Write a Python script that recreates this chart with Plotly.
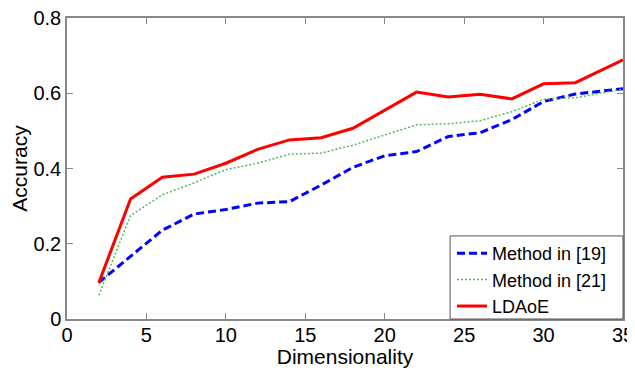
import plotly.graph_objects as go

dims = [2, 4, 6, 8, 10, 12, 14, 16, 18, 20, 22, 24, 26, 28, 30, 32, 35]
method19 = [0.097, 0.167, 0.236, 0.279, 0.291, 0.308, 0.312, 0.356, 0.403, 0.434,
            0.445, 0.485, 0.495, 0.530, 0.578, 0.598, 0.612]
method21 = [0.063, 0.275, 0.330, 0.362, 0.397, 0.414, 0.438, 0.441, 0.462, 0.489,
            0.516, 0.519, 0.527, 0.551, 0.584, 0.588, 0.611]
ldaoe = [0.096, 0.319, 0.377, 0.385, 0.414, 0.451, 0.476, 0.482, 0.507, 0.556,
         0.603, 0.590, 0.597, 0.585, 0.625, 0.628, 0.689]

x_ticks = [0, 5, 10, 15, 20, 25, 30, 35]
y_ticks = [0, 0.2, 0.4, 0.6, 0.8]
y_tick_labels = ["0", "0.2", "0.4", "0.6", "0.8"]

FONT = "Liberation Sans, Arial, sans-serif"

fig = go.Figure()
fig.add_trace(go.Scatter(x=dims, y=method19, mode="lines", name="Method in [19]",
                         line=dict(color="#0000ff", width=3, dash="8px,4px")))
fig.add_trace(go.Scatter(x=dims, y=method21, mode="lines", name="Method in [21]",
                         line=dict(color="#55b855", width=1.5, dash="2px,2px")))
fig.add_trace(go.Scatter(x=dims, y=ldaoe, mode="lines", name="LDAoE",
                         line=dict(color="#ff0000", width=3)))

axis_common = dict(showline=True, linecolor="#888888", linewidth=1.5, mirror="ticks",
                   ticks="inside", ticklen=6, tickcolor="#888888", tickwidth=1,
                   showgrid=False, zeroline=False, automargin=False,
                   ticklabeloverflow="allow",
                   tickfont=dict(family=FONT, size=20, color="black"))

# MATLAB-style legend frame (wider than plotly's own legend box)
legend_frame = dict(type="rect", xref="paper", yref="paper",
                    x0=0.689, x1=1.0, y0=0.0, y1=0.276,
                    line=dict(color="#555555", width=1), fillcolor="white",
                    layer="above")

# page body has an 8px margin, so the figure is sized/positioned to compensate
fig.update_layout(
    width=627, height=360,
    margin=dict(l=59, r=12, t=10, b=49, autoexpand=False),
    paper_bgcolor="white", plot_bgcolor="white",
    font=dict(family=FONT, color="black"),
    xaxis=dict(range=[0, 35], tickvals=x_ticks, ticklabelstandoff=-3,
               title=dict(text="Dimensionality", font=dict(family=FONT, size=21), standoff=0),
               **axis_common),
    yaxis=dict(range=[0, 0.8], tickvals=y_ticks, ticktext=y_tick_labels,
               title=dict(text="Accuracy", font=dict(family=FONT, size=21), standoff=2),
               **axis_common),
    shapes=[legend_frame],
    legend=dict(x=0.6925, y=0.279, xanchor="left", yanchor="top",
                bgcolor="rgba(0,0,0,0)", borderwidth=0,
                font=dict(family=FONT, size=18, color="black"),
                tracegroupgap=0, itemwidth=30),
    showlegend=True,
)

fig.write_html("out.html")
